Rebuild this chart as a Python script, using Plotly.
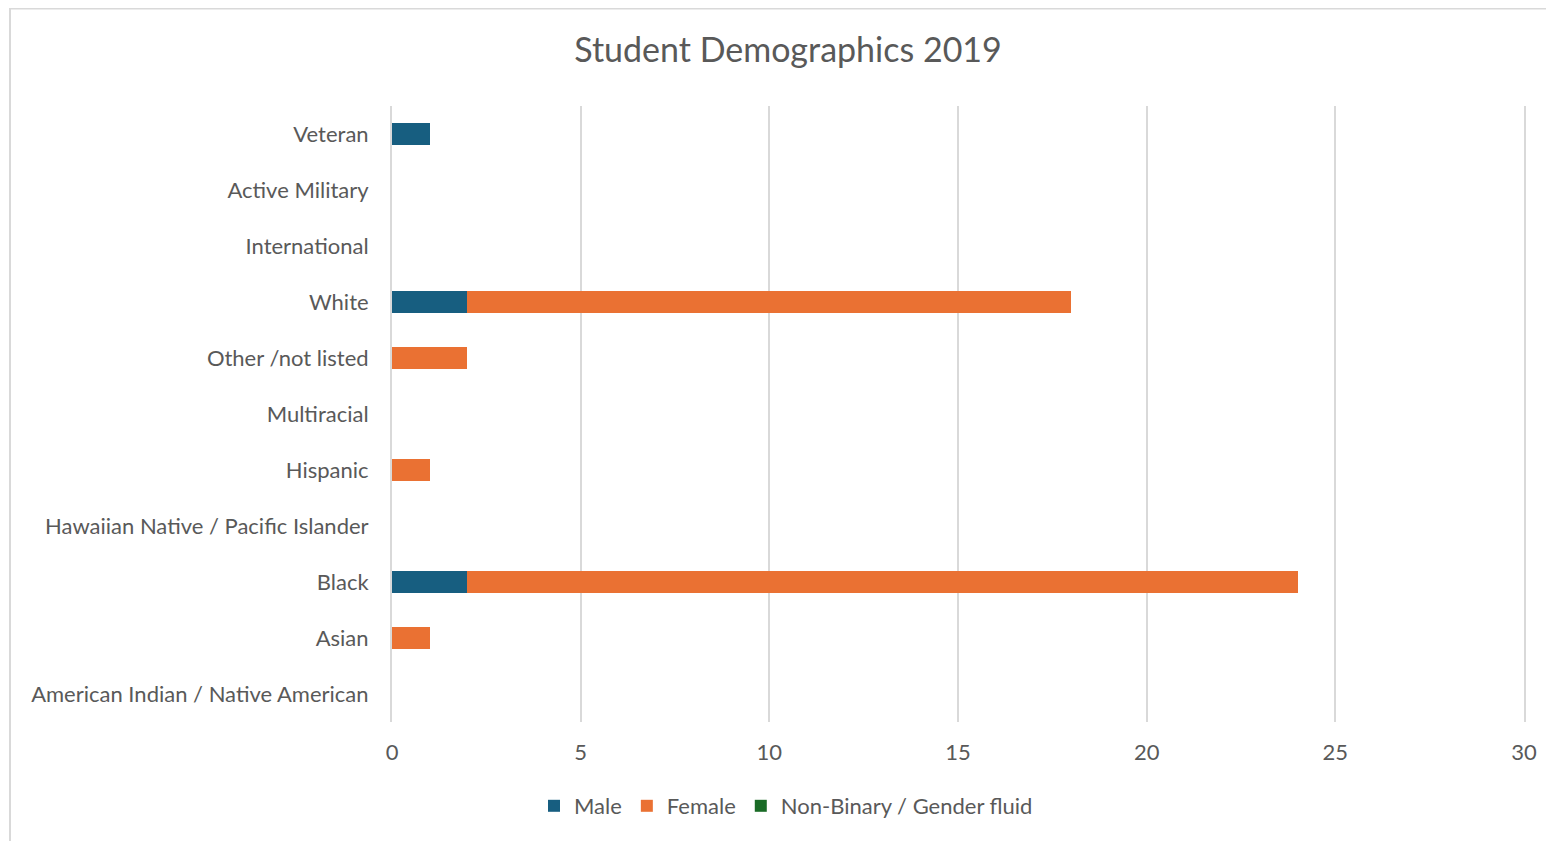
import plotly.graph_objects as go

categories = ["American Indian / Native American", "Asian", "Black",
              "Hawaiian Native / Pacific Islander", "Hispanic", "Multiracial",
              "Other /not listed", "White", "International", "Active Military", "Veteran"]
male = [0, 0, 2, 0, 0, 0, 0, 2, 0, 0, 1]
female = [0, 1, 22, 0, 1, 0, 2, 16, 0, 0, 0]
nonbinary = [0, 0, 0, 0, 0, 0, 0, 0, 0, 0, 0]
x_ticks = [0, 5, 10, 15, 20, 25, 30]

FONT = "Lato"
TXT = "#595959"
GRID = "#d9d9d9"

W, H = 1546, 833
L, T, R, B = 384, 98, 30, 119
PW, PH = W - L - R, H - T - B

fig = go.Figure()
fig.add_trace(go.Bar(y=categories, x=male, orientation="h", name="Male",
                     marker=dict(color="#175e80", line=dict(width=0))))
fig.add_trace(go.Bar(y=categories, x=female, orientation="h", name="Female",
                     marker=dict(color="#ea7133", line=dict(width=0))))
fig.add_trace(go.Bar(y=categories, x=nonbinary, orientation="h", name="Non-Binary / Gender fluid",
                     marker=dict(color="#1a6b26", line=dict(width=0))))

fig.update_layout(
    width=W, height=H,
    barmode="stack", bargap=0.6,
    paper_bgcolor="white", plot_bgcolor="white",
    margin=dict(l=L, r=R, t=T, b=B, autoexpand=False),
    font=dict(family=FONT, color=TXT, size=22),
    title=dict(text="Student Demographics 2019", x=780 / W, xref="container", xanchor="center",
               y=1 - 42 / H, yref="container", yanchor="middle",
               font=dict(family=FONT, size=34, color=TXT)),
    legend=dict(orientation="h", xref="container", x=778 / W, xanchor="center",
                yref="container", y=1 - 798 / H, yanchor="middle",
                font=dict(family=FONT, size=22, color=TXT), traceorder="normal",
                itemwidth=30),
    showlegend=True,
)
fig.update_xaxes(range=[0, 30], tickvals=x_ticks, showgrid=True, gridcolor=GRID, gridwidth=2,
                 zeroline=False, showline=False, ticks="", ticklabelstandoff=15,
                 tickfont=dict(size=22, color=TXT))
fig.update_yaxes(range=[-0.5, 10.5], categoryorder="array", categoryarray=categories,
                 showgrid=False, zeroline=False, showline=True, linecolor=GRID, linewidth=2,
                 mirror=True, ticks="",
                 ticklabelstandoff=17, tickfont=dict(size=22, color=TXT))

# chart border (Excel chart area outline)
fig.add_shape(type="rect", xref="paper", yref="paper",
              x0=(2 - L) / PW, x1=1.2, y0=-0.4, y1=(PH + T - 0.5) / PH,
              line=dict(color=GRID, width=2), fillcolor="rgba(0,0,0,0)", layer="below")

fig.write_html("out.html")
